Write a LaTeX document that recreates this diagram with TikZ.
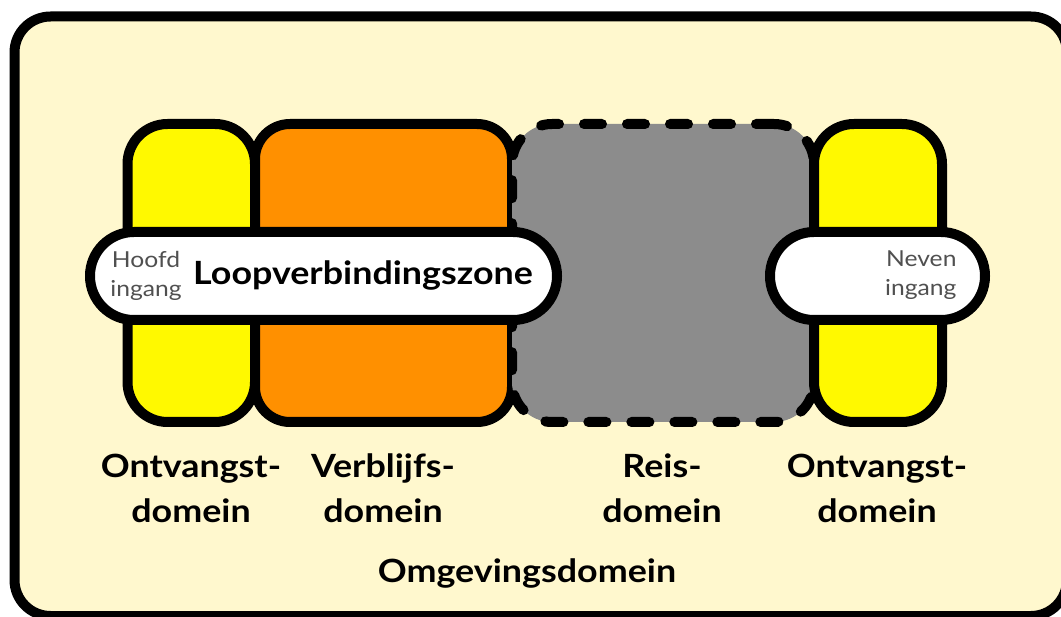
\documentclass[tikz,border=0pt]{standalone}
\usepackage{fontspec}
\setmainfont{Lato}[FakeStretch=1.12]
\definecolor{cream}{HTML}{FFF8CE}
\definecolor{zoneyellow}{HTML}{FFF900}
\definecolor{zoneorange}{HTML}{FF9000}
\definecolor{zonegray}{HTML}{8C8C8C}
\definecolor{smalltext}{HTML}{505050}
\tikzset{
  zone/.style={draw=black, line width=10pt, rounded corners=#1, inner sep=0pt},
  zone/.default=40pt,
  pill/.style={draw=black, fill=white, line width=10pt, rounded corners=43.9pt,
    inner sep=0pt, minimum height=88pt},
  % multi-line labels are anchored at the baseline of their last line
  domainlabel/.style={font=\bfseries\fontsize{32}{45}\selectfont, align=center, anchor=base},
  entrylabel/.style={font=\fontsize{22}{29}\selectfont, text=smalltext, anchor=base},
}
\begin{document}
\begin{tikzpicture}[x=1pt,y=-1pt]
  \useasboundingbox (0,0) rectangle (1061,617);
  \clip (0,0) rectangle (1061,617);
  \fill[white] (0,0) rectangle (1061,617);

  % surrounding domain
  \node[zone=36pt, fill=cream, minimum width=1052.5pt, minimum height=599.5pt]
    (omgeving) at (540.75,316.25) {};

  % the four domains
  \node[zone=40pt, fill=zoneyellow, minimum width=127.5pt, minimum height=298pt]
    (ontvangstL) at (191.25,273) {};
  \node[zone=35pt, fill=zoneorange, minimum width=257pt, minimum height=298pt]
    (verblijf) at (383.5,273) {};
  \node[zone=40pt, fill=zonegray, dashed, dash pattern=on 18pt off 25pt, line cap=round,
    minimum width=302pt, minimum height=298pt]
    (reis) at (663,273) {};
  \node[zone=40pt, fill=zoneyellow, minimum width=128pt, minimum height=298pt]
    (ontvangstR) at (878,273) {};

  % walking connection zones
  \node[pill, minimum width=467pt] (loop) at (323.5,276) {};
  \node[pill, minimum width=215pt] (neven) at (877.5,276) {};

  \node[entrylabel, align=center] (hoofdtxt) at (146,297) {Hoofd\\ingang};
  \node[font=\bfseries\fontsize{32}{38}\selectfont, anchor=base] (looptxt) at (363,285)
    {Loopverbindingszone};
  \node[entrylabel, align=right, anchor=base east] (neventxt) at (960,296) {Neven\\ingang};

  % domain names
  \node[domainlabel] (lblOntvL) at (191,522) {Ontvangst-\\domein};
  \node[domainlabel] (lblVerbl) at (383,522) {Verblijfs-\\domein};
  \node[domainlabel] (lblReis) at (662,522) {Reis-\\domein};
  \node[domainlabel] (lblOntvR) at (877,522) {Ontvangst-\\domein};
  \node[domainlabel] (lblOmg) at (527,582) {Omgevingsdomein};
\end{tikzpicture}
\end{document}
